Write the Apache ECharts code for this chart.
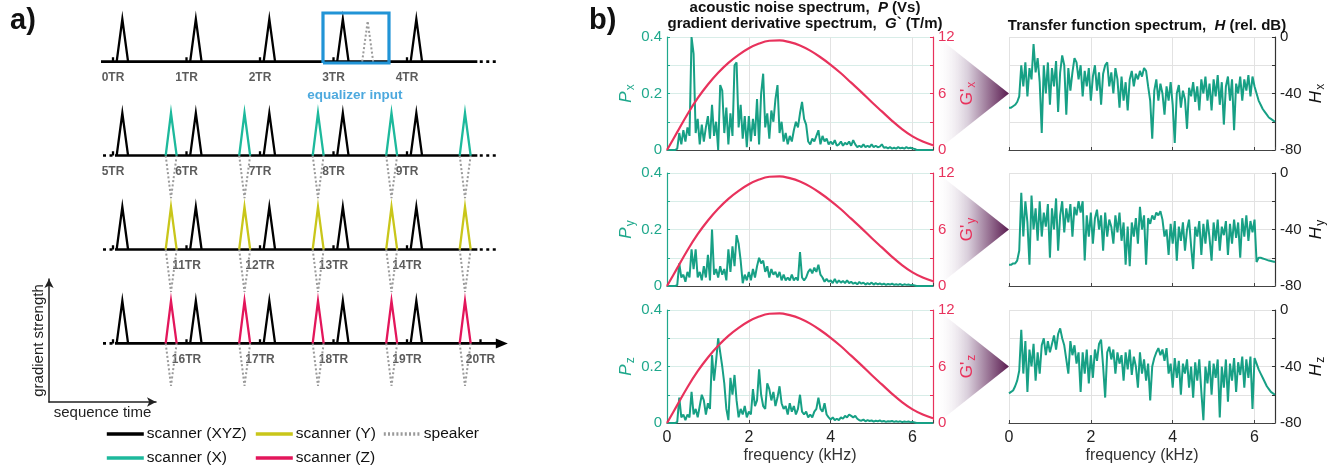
<!DOCTYPE html>
<html><head><meta charset="utf-8">
<script src="https://cdn.jsdelivr.net/npm/echarts@6/dist/echarts.min.js"></script>
<style>html,body{margin:0;padding:0;background:#fff}#c{width:1344px;height:472px}</style>
</head><body><div id="c"></div>
<script>
// ---------------- DATA ----------------
// panel a) schematic sequence (in TR units)
const trLabels = [
  ['0TR','1TR','2TR','3TR','4TR'],
  ['5TR','6TR','7TR','8TR','9TR'],
  ['','11TR','12TR','13TR','14TR'],
  ['','16TR','17TR','18TR','19TR','20TR']
];
const xyzPulseTR = [0, 1, 2, 3, 4];
const axisPulseTR = [0, 1, 2, 3, 4];
const trTicksLastRow = [0, 1, 2, 3, 4, 5];
const equalizerTR = 3;
const rowChannels = ['scanner (XYZ)', 'scanner (X)', 'scanner (Y)', 'scanner (Z)'];
const legendNames = ['scanner (XYZ)', 'scanner (X)', 'scanner (Y)', 'scanner (Z)', 'speaker'];

// panel b) spectra, frequency in kHz
const freqFine = [0,0.05,0.1,0.15,0.2,0.25,0.3,0.35,0.4,0.45,0.5,0.55,0.6,0.65,0.7,0.75,0.8,0.85,0.9,0.95,1,1.05,1.1,1.15,1.2,1.25,1.3,1.35,1.4,1.45,1.5,1.55,1.6,1.65,1.7,1.75,1.8,1.85,1.9,1.95,2,2.05,2.1,2.15,2.2,2.25,2.3,2.35,2.4,2.45,2.5,2.55,2.6,2.65,2.7,2.75,2.8,2.85,2.9,2.95,3,3.05,3.1,3.15,3.2,3.25,3.3,3.35,3.4,3.45,3.5,3.55,3.6,3.65,3.7,3.75,3.8,3.85,3.9,3.95,4,4.05,4.1,4.15,4.2,4.25,4.3,4.35,4.4,4.45,4.5,4.55,4.6,4.65,4.7,4.75,4.8,4.85,4.9,4.95,5,5.05,5.1,5.15,5.2,5.25,5.3,5.35,5.4,5.45,5.5,5.55,5.6,5.65,5.7,5.75,5.8,5.85,5.9,5.95,6,6.05,6.1,6.15,6.2,6.25,6.3,6.35,6.4,6.45,6.5];
const freqCoarse = [0,0.25,0.5,0.75,1,1.25,1.5,1.75,2,2.25,2.5,2.75,3,3.25,3.5,3.75,4,4.25,4.5,4.75,5,5.25,5.5,5.75,6,6.25,6.5];
const gPrime = [0,1.9,3.8,5.5,6.95,8.2,9.25,10.1,10.8,11.3,11.6,11.65,11.45,11.1,10.55,9.85,9.05,8.15,7.15,6.15,5.1,4.1,3.1,2.2,1.45,0.9,0.5];

const Px = [0,0,0,0,0,0.005,0.06,0.02,0.07,0.03,
  0.08,0.05,0.40,0.34,0.06,0.11,0.02,0.09,0.03,0.08,
  0.12,0.04,0.16,0.05,0.10,0.00,0.23,0.21,0.06,0.15,
  0.02,0.13,0.05,0.30,0.31,0.08,0.16,0.04,0.12,0.01,
  0.12,0.03,0.11,0.05,0.18,0.02,0.20,0.27,0.08,0.13,
  0.04,0.14,0.10,0.18,0.23,0.06,0.10,0.03,0.06,0.02,
  0.05,0.03,0.07,0.10,0.08,0.13,0.17,0.11,0.09,0.03,
  0.02,0.04,0.03,0.05,0.07,0.02,0.05,0.03,0.04,0.02,
  0.03,0.02,0.035,0.015,0.02,0.03,0.015,0.025,0.02,0.03,
  0.015,0.035,0.02,0.01,0.015,0.01,0.02,0.01,0.015,0.01,
  0.02,0.01,0.015,0.01,0.012,0.02,0.008,0.01,0.006,0.01,
  0.005,0.008,0.005,0.01,0.006,0.008,0.005,0.01,0.006,0.008,
  0.005,0.004,0,0,0,0,0,0,0,0,0];
const Py = [0,0,0,0,0,0.003,0.08,0.03,0.04,0.015,
  0.05,0.03,0.13,0.06,0.13,0.03,0.05,0.02,0.07,0.03,
  0.11,0.02,0.20,0.04,0.06,0.03,0.07,0.04,0.06,0.02,
  0.13,0.05,0.14,0.07,0.18,0.15,0.09,0.01,0.04,0.02,
  0.05,0.02,0.06,0.03,0.07,0.10,0.08,0.09,0.05,0.07,
  0.03,0.06,0.04,0.05,0.03,0.05,0.02,0.04,0.02,0.03,
  0.02,0.04,0.02,0.03,0.02,0.12,0.03,0.02,0.03,0.05,
  0.06,0.045,0.065,0.05,0.075,0.04,0.03,0.015,0.025,0.015,
  0.02,0.01,0.025,0.01,0.02,0.012,0.018,0.01,0.02,0.01,
  0.015,0.008,0.012,0.006,0.014,0.008,0.012,0.005,0.01,0.006,
  0.012,0.005,0.01,0.006,0.009,0.005,0.008,0.004,0.007,0.005,
  0.008,0.004,0.006,0.004,0.007,0.003,0.006,0.004,0.005,0.003,
  0.004,0.002,0,0,0,0,0,0,0,0,0];
const Pz = [0,0,0,0,0,0.003,0.09,0.02,0.03,0.01,
  0.03,0.02,0.11,0.03,0.05,0.02,0.06,0.10,0.08,0.03,
  0.07,0.05,0.24,0.15,0.22,0.30,0.25,0.20,0.14,0.05,
  0.01,0.16,0.10,0.17,0.08,0.02,0.05,0.03,0.06,0.02,
  0.04,0.03,0.12,0.06,0.08,0.19,0.10,0.06,0.05,0.14,
  0.12,0.08,0.11,0.06,0.09,0.13,0.07,0.05,0.06,0.03,
  0.07,0.04,0.06,0.03,0.05,0.10,0.04,0.03,0.04,0.02,
  0.03,0.02,0.04,0.05,0.09,0.05,0.04,0.07,0.03,0.02,
  0.012,0.02,0.01,0.015,0.01,0.02,0.015,0.025,0.02,0.03,
  0.025,0.02,0.025,0.015,0.01,0.008,0.012,0.006,0.01,0.007,
  0.009,0.005,0.008,0.006,0.009,0.005,0.007,0.004,0.006,0.005,
  0.007,0.004,0.006,0.004,0.006,0.003,0.005,0.004,0.005,0.003,
  0.004,0.002,0,0,0,0,0,0,0,0,0];
const Hx = [-50,-50,-49,-48,-46,-42,-20,-35,-18,-42,
  -22,-30,-5,-25,-15,-32,-68,-20,-40,-18,
  -48,-22,-35,-17,-53,-25,-13,-20,-55,-22,
  -38,-25,-15,-18,-30,-20,-42,-24,-35,-22,
  -45,-28,-20,-38,-25,-48,-26,-20,-18,-35,
  -25,-40,-22,-30,-50,-28,-45,-32,-52,-30,
  -24,-35,-26,-30,-24,-28,-22,-24,-35,-45,
  -72,-38,-30,-45,-33,-40,-55,-35,-45,-32,
  -48,-75,-40,-34,-50,-38,-44,-65,-36,-42,
  -32,-46,-35,-52,-30,-40,-28,-45,-33,-52,
  -30,-42,-27,-48,-32,-62,-35,-28,-45,-30,
  -66,-33,-40,-28,-45,-30,-38,-27,-42,-28,
  -35,-40,-45,-48,-51,-53,-55,-57,-58,-59,-60];
const Hy = [-65,-65,-64,-64,-62,-55,-14,-45,-20,-35,
  -65,-16,-40,-25,-48,-20,-45,-28,-38,-22,
  -60,-25,-40,-18,-55,-30,-20,-42,-25,-35,
  -22,-45,-24,-30,-20,-28,-20,-62,-30,-45,
  -28,-50,-32,-26,-40,-30,-55,-28,-45,-33,
  -38,-50,-30,-42,-28,-48,-35,-65,-38,-66,
  -35,-45,-32,-50,-24,-40,-30,-65,-32,-36,
  -30,-33,-28,-30,-27,-33,-45,-40,-58,-36,
  -50,-34,-62,-38,-48,-35,-55,-40,-33,-52,
  -68,-38,-45,-34,-58,-36,-50,-33,-46,-62,
  -35,-48,-33,-55,-38,-44,-34,-58,-36,-50,
  -33,-46,-35,-60,-32,-45,-30,-48,-34,-42,
  -33,-63,-60,-60,-60.5,-61,-61.5,-62,-62.3,-62.6,-63];
const Hz = [-59,-58,-57,-54,-50,-43,-14,-45,-22,-58,
  -28,-40,-24,-50,-30,-45,-25,-20,-32,-22,
  -30,-24,-18,-28,-17,-13,-20,-25,-35,-45,
  -22,-32,-25,-38,-30,-58,-30,-45,-28,-52,
  -32,-48,-28,-36,-24,-21,-40,-62,-30,-26,
  -35,-28,-45,-30,-38,-32,-50,-30,-42,-28,
  -46,-33,-40,-55,-30,-45,-35,-50,-38,-64,
  -40,-34,-30,-27,-32,-28,-36,-27,-45,-38,
  -55,-34,-48,-36,-60,-38,-45,-35,-55,-40,
  -62,-37,-50,-35,-58,-78,-40,-52,-36,-60,
  -38,-48,-35,-76,-40,-55,-35,-65,-38,-50,
  -34,-58,-37,-46,-33,-55,-35,-48,-33,-70,
  -34,-38,-42,-45,-48,-51,-54,-56,-58,-59,-60];
const pSeries = [Px, Py, Pz];
const hSeries = [Hx, Hy, Hz];
const axisSub = ['x', 'y', 'z'];
const xTickLabels = [0, 2, 4, 6];
const pTickLabels = [0, 0.2, 0.4];
const gTickLabels = [0, 6, 12];
const hTickLabels = [0, -40, -80];

// ---------------- DRAW ----------------
const FONT = 'Liberation Sans, Arial, Helvetica, sans-serif';
const TEAL = '#17a085', PINK = '#e8325c', AXTEAL = '#1fa88c';
const colBlack = '#000', colX = '#1db99c', colY = '#c9c61a', colZ = '#e3165b', colSpk = '#9a9a9a', colBlue = '#2194d6';

const rowBase = [0, -2.21, -4.42, -6.63];
const BRK = ['-', '-'];
const pulses = {'scanner (XYZ)': [], 'scanner (X)': [], 'scanner (Y)': [], 'scanner (Z)': []};
const spk = [], solid = [], dots = [], lbls = [];
rowBase.forEach((b, r) => {
  const ticks = r === 3 ? trTicksLastRow : xyzPulseTR;
  ticks.forEach(k => pulses['scanner (XYZ)'].push([k, b], [k, b + 0.1], BRK));
  xyzPulseTR.forEach(k => pulses['scanner (XYZ)'].push([k + 0.05, b], [k + 0.127, b + 1], [k + 0.205, b], BRK));
  if (r > 0) {
    axisPulseTR.forEach(k => {
      pulses[rowChannels[r]].push([k + 0.717, b], [k + 0.789, b + 1], [k + 0.866, b], BRK);
      spk.push([k + 0.717, b], [k + 0.789, b - 1], [k + 0.866, b], BRK);
    });
    dots.push([-0.136, b], [0.02, b], BRK);
  } else {
    spk.push([equalizerTR + 0.39, b], [equalizerTR + 0.465, b + 0.95], [equalizerTR + 0.54, b], BRK);
  }
  if (r === 0) solid.push([-0.163, b], [4.957, b], BRK);
  else if (r < 3) solid.push([0.027, b], [4.957, b], BRK);
  else solid.push([0.027, b], {value: [5.29, b], symbol: 'triangle', symbolSize: [10, 12], symbolRotate: -90}, BRK);
  if (r < 3) dots.push([4.99, b], [5.23, b], BRK);
  trLabels[r].forEach((s, k) => { if (s) lbls.push({name: s, value: [k, b - 0.38]}); });
});
const box = [[equalizerTR - 0.143, -0.032], [equalizerTR + 0.755, -0.032], [equalizerTR + 0.755, 1.144], [equalizerTR - 0.143, 1.144], [equalizerTR - 0.143, -0.032]];

const grid = [
  {left: 2.75, top: 0, width: 514.5, height: 472},
  {left: 49, top: 279, width: 107, height: 123}
];
const xAxis = [
  {gridIndex: 0, type: 'value', min: -1.5, max: 5.5, show: false},
  {gridIndex: 1, type: 'value', min: 0, max: 1, axisLine: {onZero: false, symbol: ['none', 'arrow'], symbolSize: [7, 9], lineStyle: {color: '#222', width: 1.5}}, axisTick: {show: false}, axisLabel: {show: false}, splitLine: {show: false},
   name: 'sequence time', nameLocation: 'middle', nameGap: 3, nameTextStyle: {fontSize: 15, color: '#222', verticalAlign: 'top'}}
];
const yAxis = [
  {gridIndex: 0, type: 'value', min: -9.656, max: 1.45, show: false},
  {gridIndex: 1, type: 'value', min: 0, max: 1, axisLine: {onZero: false, symbol: ['none', 'arrow'], symbolSize: [7, 9], lineStyle: {color: '#222', width: 1.5}}, axisTick: {show: false}, axisLabel: {show: false}, splitLine: {show: false},
   name: 'gradient strength', nameLocation: 'middle', nameRotate: 90, nameGap: 3, nameTextStyle: {fontSize: 15, color: '#222'}}
];
const tops = [37, 173, 310];
const fmt = list => v => list.includes(+(+v).toFixed(3)) ? String(+(+v).toFixed(3)) : '';
tops.forEach((t, r) => grid.push({left: 667, top: t, width: 266, height: 113}));
tops.forEach((t, r) => grid.push({left: 1009, top: t, width: 266, height: 113}));
for (let c = 0; c < 2; c++) {
  tops.forEach((t, r) => {
    xAxis.push({gridIndex: 2 + c * 3 + r, type: 'value', min: 0, max: 6.5, interval: 2,
      axisLine: {onZero: false, lineStyle: {color: '#444', width: 1.2}},
      axisTick: {show: true, inside: true, length: 3, lineStyle: {color: '#444'}},
      axisLabel: {show: r === 2, formatter: fmt(xTickLabels), fontSize: 16, color: '#222', margin: 7},
      splitLine: {show: true, lineStyle: {color: '#e2e2e2', width: 1}},
      name: r === 2 ? 'frequency (kHz)' : '', nameLocation: 'middle', nameGap: 25,
      nameTextStyle: {fontSize: 16, color: '#333'}});
  });
}
const subRich = (color, big, italic) => ({
  a: {fontStyle: italic ? 'italic' : 'normal', fontSize: big, color: color, fontFamily: FONT},
  s: {fontSize: 12, color: color, padding: [9, 0, 0, 1], fontFamily: FONT}
});
tops.forEach((t, r) => yAxis.push({gridIndex: 2 + r, type: 'value', min: 0, max: 0.4, interval: 0.1, position: 'left',
  axisLine: {show: true, onZero: false, lineStyle: {color: AXTEAL, width: 1.2}},
  axisTick: {show: true, inside: true, length: 3, lineStyle: {color: AXTEAL}},
  axisLabel: {formatter: fmt(pTickLabels), color: AXTEAL, fontSize: 15, margin: 5},
  splitLine: {show: true, lineStyle: {color: '#d8ede8'}},
  name: '{a|P}{s|' + axisSub[r] + '}', nameLocation: 'middle', nameRotate: 90, nameGap: 30,
  nameTextStyle: {rich: subRich(AXTEAL, 17, true)}}));
tops.forEach((t, r) => yAxis.push({gridIndex: 2 + r, type: 'value', min: 0, max: 12, interval: 3, position: 'right',
  axisLine: {show: true, onZero: false, lineStyle: {color: PINK, width: 1.2}},
  axisTick: {show: true, inside: true, length: 3, lineStyle: {color: PINK}},
  axisLabel: {formatter: fmt(gTickLabels), color: PINK, fontSize: 15, margin: 5},
  splitLine: {show: false},
  name: "{a|G'}{s|" + axisSub[r] + '}', nameLocation: 'middle', nameRotate: 90, nameGap: 24,
  nameTextStyle: {rich: subRich(PINK, 17, false)}}));
tops.forEach((t, r) => yAxis.push({gridIndex: 5 + r, type: 'value', min: -80, max: 0, interval: 20, position: 'right',
  axisLine: {show: true, onZero: false, lineStyle: {color: '#333', width: 1.2}},
  axisTick: {show: true, inside: true, length: 3, lineStyle: {color: '#333'}},
  axisLabel: {formatter: fmt(hTickLabels), color: '#222', fontSize: 15, margin: 5},
  splitLine: {show: true, lineStyle: {color: '#e2e2e2'}},
  name: '{a|H}{s|' + axisSub[r] + '}', nameLocation: 'middle', nameRotate: 90, nameGap: 31,
  nameTextStyle: {rich: subRich('#111', 17, true)}}));

const series = [];
const lineBase = {type: 'line', xAxisIndex: 0, yAxisIndex: 0, symbol: 'none', connectNulls: false, silent: true, animation: false};
series.push(Object.assign({}, lineBase, {name: 'axisSolid', data: solid, showSymbol: true, itemStyle: {color: '#000'}, lineStyle: {color: '#000', width: 2.6}}));
series.push(Object.assign({}, lineBase, {name: 'axisDots', data: dots, lineStyle: {color: '#000', width: 2.6, type: [3, 3.5]}}));
series.push(Object.assign({}, lineBase, {name: 'speaker', data: spk, itemStyle: {color: colSpk}, lineStyle: {color: colSpk, width: 2, type: [2, 2.2]}}));
[['scanner (XYZ)', colBlack], ['scanner (X)', colX], ['scanner (Y)', colY], ['scanner (Z)', colZ]].forEach(([n, c]) => {
  series.push(Object.assign({}, lineBase, {name: n, data: pulses[n], itemStyle: {color: c}, lineStyle: {color: c, width: 2.3, join: 'miter'}}));
});
series.push(Object.assign({}, lineBase, {name: 'box', data: box, lineStyle: {color: colBlue, width: 3.2, join: 'miter'}}));
series.push({type: 'scatter', xAxisIndex: 0, yAxisIndex: 0, silent: true, symbolSize: 1, itemStyle: {color: 'rgba(0,0,0,0)'}, data: lbls,
  label: {show: true, position: 'inside', formatter: '{b}', fontSize: 12, fontWeight: 'bold', color: '#333', fontFamily: FONT}});
series.push({type: 'scatter', xAxisIndex: 0, yAxisIndex: 0, silent: true, symbolSize: 1, itemStyle: {color: 'rgba(0,0,0,0)'},
  data: [{name: 'equalizer input', value: [equalizerTR + 0.29, -0.785]}],
  label: {show: true, position: 'inside', formatter: '{b}', fontSize: 13.5, fontWeight: 'bold', color: colBlue, fontFamily: FONT}});

tops.forEach((t, r) => {
  series.push({type: 'line', name: 'P' + r, xAxisIndex: 2 + r, yAxisIndex: 2 + r, symbol: 'none', animation: false,
    data: freqFine.map((f, i) => [f, pSeries[r][i]]), lineStyle: {color: TEAL, width: 2}, z: 3});
  series.push({type: 'line', name: 'G' + r, xAxisIndex: 2 + r, yAxisIndex: 5 + r, symbol: 'none', smooth: 0.4, animation: false,
    data: freqCoarse.map((f, i) => [f, gPrime[i]]), lineStyle: {color: PINK, width: 2.2}, z: 4});
  series.push({type: 'line', name: 'H' + r, xAxisIndex: 5 + r, yAxisIndex: 8 + r, symbol: 'none', animation: false,
    data: freqFine.map((f, i) => [f, hSeries[r][i]]), lineStyle: {color: TEAL, width: 2}, z: 3});
});

const graphic = tops.map(t => ({type: 'polygon', z: -10, silent: true,
  shape: {points: [[935, t - 2], [1009, t + 56.5], [935, t + 115]]},
  style: {fill: {type: 'linear', x: 0, y: 0, x2: 1, y2: 0, colorStops: [
    {offset: 0, color: 'rgba(255,255,255,0)'}, {offset: 0.45, color: '#d8cdda'}, {offset: 1, color: '#5a1b50'}]}}}));

// one legend component per entry, laid out as in the figure (3 columns x 2 rows)
const legendPos = {'scanner (XYZ)': [105, 426], 'scanner (X)': [105, 450], 'scanner (Y)': [254, 426], 'scanner (Z)': [254, 450], 'speaker': [382, 426]};
const legend = legendNames.map(n => ({
  data: [n], left: legendPos[n][0], top: legendPos[n][1], padding: 0, orient: 'horizontal',
  itemWidth: 37, itemHeight: 14, selectedMode: false,
  itemStyle: {color: 'rgba(0,0,0,0)', borderColor: 'rgba(0,0,0,0)', borderWidth: 0},
  lineStyle: {width: 3.6},
  textStyle: {fontSize: 15.5, color: '#111', fontFamily: FONT, padding: [0, 0, 0, -2]}
}));

const title = [
  {text: 'a)', left: 5, top: 1, textStyle: {fontSize: 29, fontWeight: 'bold', color: '#111', fontFamily: FONT}},
  {text: 'b)', left: 584, top: 1, textStyle: {fontSize: 29, fontWeight: 'bold', color: '#111', fontFamily: FONT}},
  {text: 'acoustic noise spectrum,  {i|P} (Vs)\ngradient derivative spectrum,  {i|G}` (T/m)', left: 800, top: -5, textAlign: 'center',
   textStyle: {fontSize: 15, fontWeight: 'bold', color: '#111', lineHeight: 16, fontFamily: FONT,
     rich: {i: {fontSize: 15, fontWeight: 'bold', fontStyle: 'italic', color: '#111', lineHeight: 16, fontFamily: FONT}}}},
  {text: 'Transfer function spectrum,  {i|H} (rel. dB)', left: 1142, top: 13, textAlign: 'center',
   textStyle: {fontSize: 15, fontWeight: 'bold', color: '#111', lineHeight: 16, fontFamily: FONT,
     rich: {i: {fontSize: 15, fontWeight: 'bold', fontStyle: 'italic', color: '#111', lineHeight: 16, fontFamily: FONT}}}}
];

const chart = echarts.init(document.getElementById('c'));
chart.setOption({animation: false, textStyle: {fontFamily: FONT}, title, legend, grid, xAxis, yAxis, series, graphic});
</script></body></html>
